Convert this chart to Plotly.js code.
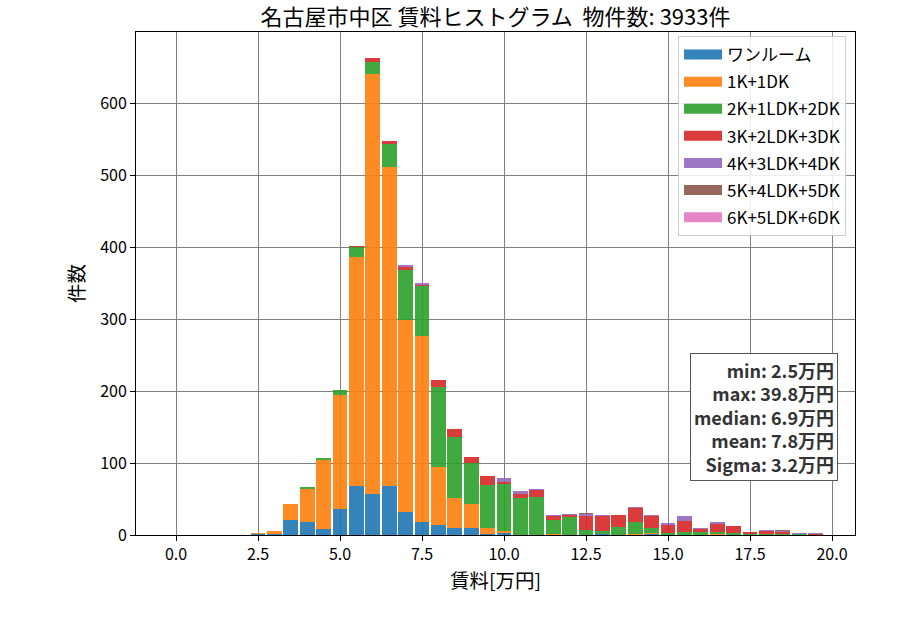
<!DOCTYPE html>
<html>
<head>
<meta charset="utf-8">
<script src="https://cdn.plot.ly/plotly-3.0.1.min.js"></script>
<style>
  html, body { margin: 0; padding: 0; background: #fff; }
  #myPlot { width: 900px; height: 630px; }
</style>
</head>
<body>
<div id="myPlot"></div>
<script>
// bin centres [万円], bin width 0.5
var rentBins = [2.5, 3.0, 3.5, 4.0, 4.5, 5.0, 5.5, 6.0, 6.5, 7.0,
                7.5, 8.0, 8.5, 9.0, 9.5, 10.0, 10.5, 11.0, 11.5, 12.0,
                12.5, 13.0, 13.5, 14.0, 14.5, 15.0, 15.5, 16.0, 16.5, 17.0,
                17.5, 18.0, 18.5, 19.0, 19.5];

var oneRoom = [1, 2, 21, 18, 8, 36, 68, 57, 68, 32,
               18, 14, 10, 10, 2, 3, 0, 0, 0, 0,
               0, 2, 0, 0, 2, 0, 0, 0, 0, 0,
               0, 0, 0, 0, 0];
var k1dk = [2, 3, 22, 46, 96, 158, 318, 584, 444, 267,
            258, 80, 41, 33, 8, 2, 0, 0, 1, 0,
            0, 0, 0, 1, 1, 0, 0, 0, 1, 0,
            0, 0, 0, 0, 0];
var k2ldk = [0, 0, 0, 3, 3, 8, 14, 17, 31, 69,
             70, 111, 85, 57, 59, 66, 51, 53, 20, 25,
             7, 4, 11, 17, 7, 3, 4, 4, 3, 3,
             1, 1, 1, 1, 0];
var k3ldk = [0, 0, 0, 0, 0, 0, 2, 5, 5, 4,
             1, 11, 11, 8, 13, 2, 6, 9, 5, 3,
             19, 20, 17, 19, 16, 11, 15, 4, 11, 10,
             3, 4, 3, 1, 2];
var k4ldk = [0, 0, 0, 0, 0, 0, 0, 0, 0, 3,
             3, 0, 0, 1, 0, 6, 4, 2, 2, 1,
             3, 2, 0, 2, 2, 3, 7, 2, 3, 0,
             0, 2, 1, 1, 1];
var k5ldk = [0, 0, 0, 0, 0, 0, 0, 0, 0, 0,
             0, 0, 0, 0, 0, 0, 0, 0, 0, 0,
             1, 0, 0, 0, 0, 0, 0, 0, 0, 0,
             0, 0, 2, 0, 0];
var k6ldk = [0, 0, 0, 0, 0, 0, 0, 0, 0, 0,
             0, 0, 0, 0, 0, 0, 0, 0, 0, 0,
             0, 0, 0, 0, 0, 0, 0, 0, 0, 0,
             0, 0, 0, 0, 0];

var layoutNames = ['ワンルーム', '1K+1DK', '2K+1LDK+2DK', '3K+2LDK+3DK',
                   '4K+3LDK+4DK', '5K+4LDK+5DK', '6K+5LDK+6DK'];
var stats = ['min: 2.5万円', 'max: 39.8万円', 'median: 6.9万円',
             'mean: 7.8万円', 'Sigma: 3.2万円'];
var totalCount = 3933;

var colors = ['#1f77b4', '#ff7f0e', '#2ca02c', '#d62728',
              '#9467bd', '#8c564b', '#e377c2'];
var font = 'Noto Sans CJK JP, Noto Sans, sans-serif';

var series = [oneRoom, k1dk, k2ldk, k3ldk, k4ldk, k5ldk, k6ldk];
var traces = [];

for (var i = 0; i < series.length; i++) {
  traces.push({
    x: rentBins,
    y: series[i],
    width: 0.45,
    type: 'bar',
    name: layoutNames[i],
    showlegend: false,
    opacity: 0.9,
    marker: {color: colors[i], line: {width: 0}},
    hoverinfo: 'x+y+name'
  });
}

// legend-only entries, wide swatches like the original
for (var j = 0; j < series.length; j++) {
  traces.push({
    x: [null],
    y: [null],
    type: 'scatter',
    mode: 'lines',
    name: layoutNames[j],
    legendgroup: 'g' + j,
    opacity: 0.9,
    line: {color: colors[j], width: 12}
  });
}

var layout = {
  width: 900,
  height: 630,
  barmode: 'stack',
  paper_bgcolor: '#ffffff',
  plot_bgcolor: '#ffffff',
  margin: {l: 136, r: 45, t: 32, b: 95},
  font: {family: font, size: 16, color: '#000000'},
  title: {
    text: '名古屋市中区 賃料ヒストグラム  物件数: ' + totalCount + '件',
    font: {family: font, size: 22, color: '#000000'},
    xref: 'paper',
    x: 0.5,
    y: 0.972,
    yanchor: 'middle'
  },
  xaxis: {
    range: [-1.22, 20.7],
    tick0: 0,
    dtick: 2.5,
    tickformat: '.1f',
    ticks: 'outside',
    ticklen: 5,
    tickcolor: '#000000',
    showgrid: true,
    gridcolor: '#808080',
    gridwidth: 1,
    zeroline: false,
    showline: true,
    linecolor: '#000000',
    linewidth: 1,
    mirror: true,
    tickfont: {family: font, size: 16},
    title: {text: '賃料[万円]', font: {family: font, size: 19.5}, standoff: 6}
  },
  yaxis: {
    range: [0, 699],
    tick0: 0,
    dtick: 100,
    ticks: 'outside',
    ticklen: 5,
    tickcolor: '#000000',
    showgrid: true,
    gridcolor: '#808080',
    gridwidth: 1,
    zeroline: false,
    showline: true,
    linecolor: '#000000',
    linewidth: 1,
    mirror: true,
    tickfont: {family: font, size: 16},
    title: {text: '件数', font: {family: font, size: 19.5}, standoff: 10}
  },
  legend: {
    x: 0.9875,
    y: 0.992,
    xanchor: 'right',
    yanchor: 'top',
    bgcolor: 'rgba(255,255,255,0.85)',
    bordercolor: '#cccccc',
    borderwidth: 1,
    traceorder: 'grouped',
    tracegroupgap: 2,
    itemwidth: 38,
    font: {family: font, size: 17, color: '#000000'}
  },
  annotations: [{
    xref: 'paper',
    yref: 'paper',
    x: 0.976,
    y: 0.107,
    xanchor: 'right',
    yanchor: 'bottom',
    align: 'right',
    showarrow: false,
    text: '<b>' + stats.join('<br>') + '</b>',
    font: {family: font, size: 18, color: '#333333'},
    bgcolor: '#ffffff',
    bordercolor: '#555555',
    borderwidth: 1,
    borderpad: 3
  }]
};

Plotly.newPlot('myPlot', traces, layout, {displayModeBar: false, staticPlot: true});
</script>
</body>
</html>
